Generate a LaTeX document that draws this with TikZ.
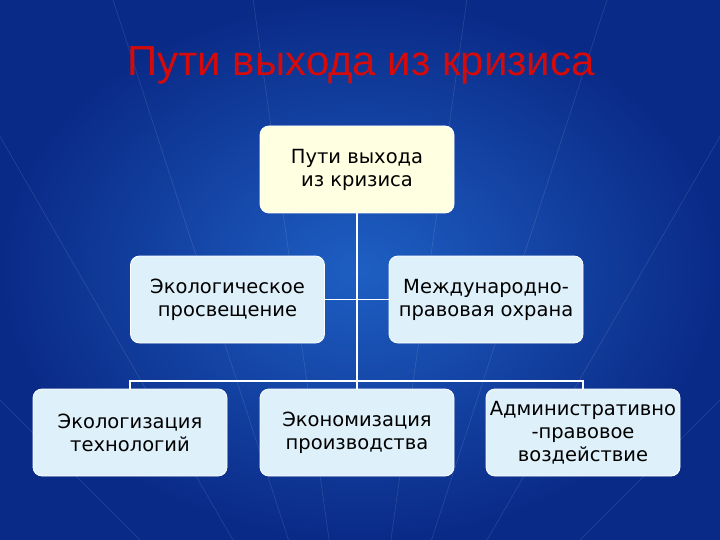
\documentclass[tikz,border=0pt]{standalone}
\usepackage{fontspec}
\setmainfont{DejaVu Sans}
\newfontfamily\titlefont{Liberation Sans}
\begin{document}
\begin{tikzpicture}[x=1pt,y=-1pt,
  box/.style={draw=white,line width=0.8pt,rounded corners=9pt,minimum width=194pt,minimum height=87pt,align=center,font=\fontsize{19.5}{23}\selectfont,text=black,inner sep=1pt},
  conn/.style={draw=white,line width=1.3pt}]
\useasboundingbox (0,0) rectangle (720,540);
\shade[inner color={rgb,255:red,30;green,95;blue,195},outer color={rgb,255:red,10;green,42;blue,135}] (0,0) rectangle (720,540);
\foreach \a in {-75,-60,-45,-30,-18,-8,8,18,30,45,60,75}
  \draw[white,opacity=0.12,line width=0.6pt] (360,760) -- ++({90+\a}:-900);
\node[font=\titlefont\fontsize{42}{44}\selectfont,text={rgb,255:red,215;green,10;blue,10}] (title) at (361,65) {Пути выхода из кризиса};
\node[box,fill={rgb,255:red,255;green,255;blue,225}] (top) at (357,169.5) {Пути выхода\\из кризиса};
\node[box,fill={rgb,255:red,222;green,240;blue,250}] (ml) at (227.5,299.5) {Экологическое\\просвещение};
\node[box,fill={rgb,255:red,222;green,240;blue,250}] (mr) at (486,299.5) {Международно-\\правовая охрана};
\node[box,fill={rgb,255:red,222;green,240;blue,250}] (bl) at (130,432.5) {Экологизация\\технологий};
\node[box,fill={rgb,255:red,222;green,240;blue,250}] (bm) at (357,432.5) {Экономизация\\производства};
\node[box,fill={rgb,255:red,222;green,240;blue,250}] (br) at (583,432.5) {Административно\\-правовое\\воздействие};
\coordinate (j) at (357,381);
\draw[conn] (top.south) -- (j);
\draw[conn] (ml.east) -- (mr.west);
\draw[conn] (bl.north) -- (bl.north |- j) -- (br.north |- j) -- (br.north);
\draw[conn] (j) -- (bm.north);
\end{tikzpicture}
\end{document}
